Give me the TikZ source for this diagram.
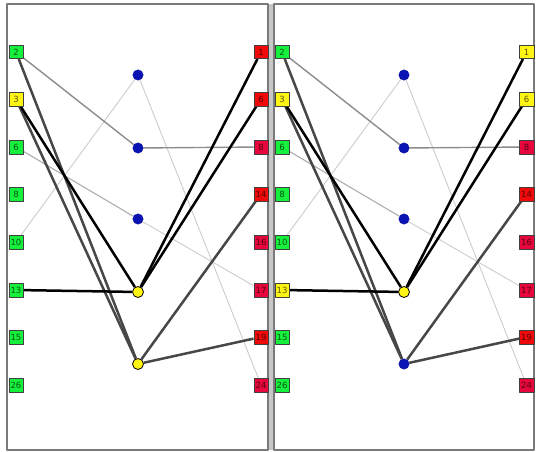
\documentclass[tikz,border=0pt]{standalone}
\usepackage{fontspec}
\setsansfont{DejaVu Sans}
\usetikzlibrary{backgrounds}
\definecolor{ngreen}{HTML}{14F03C}
\definecolor{nyellow}{HTML}{FFF514}
\definecolor{nred}{HTML}{F00A0A}
\definecolor{ncrim}{HTML}{E8073C}
\definecolor{nblue}{HTML}{0A14B4}
\definecolor{framegray}{HTML}{7A7A7A}
\tikzset{
	sq/.style={draw=black!75, line width=0.5pt, minimum width=14.5pt, minimum height=13.5pt,
		inner sep=0pt, font=\sffamily\fontsize{8.5}{8.5}\selectfont},
	bluedot/.style={circle, fill=nblue, draw=nblue!80!black, line width=0.3pt, minimum size=10.5pt, inner sep=0pt},
	yeldot/.style={circle, fill=nyellow, draw=black, line width=0.8pt, minimum size=11pt, inner sep=0pt},
	blackedge/.style={black, line width=2.5pt},
	darkedge/.style={black!72, line width=2.5pt},
	midedge/.style={black!45, line width=1.4pt},
	paleedge/.style={black!32, line width=1.1pt},
	lightedge/.style={black!20, line width=0.9pt}
}
\begin{document}
\begin{tikzpicture}[x=1pt, y=-1pt, line join=round, line cap=round]
	\useasboundingbox (0,0) rectangle (538,452);
	% frames
	\fill[black!22] (268,4) rectangle (274,450);
	\draw[framegray, line width=1.5pt] (7,4) rectangle (268,450);
	\draw[framegray, line width=1.5pt] (274,4) rectangle (534,450);
	% left panel
	\foreach \n/\y/\c in {2/52/ngreen, 3/99/nyellow, 6/147/ngreen, 8/194/ngreen,
		10/242/ngreen, 13/290/ngreen, 15/337/ngreen, 26/385/ngreen} {
		\node[sq, fill=\c, text=\c!35!black] (Al\n) at (16,\y) {\n};	}
	\foreach \n/\y/\c in {1/52/nred, 6/99/nred, 8/147/ncrim, 14/194/nred,
		16/242/ncrim, 17/290/ncrim, 19/337/nred, 24/385/ncrim} {
		\node[sq, fill=\c, text=\c!35!black] (Ar\n) at (261,\y) {\n};	}
	\node[bluedot] (Am1) at (138,75) {};
	\node[bluedot] (Am2) at (138,148) {};
	\node[bluedot] (Am3) at (138,219) {};
	\node[yeldot] (Am4) at (138,292) {};
	\node[yeldot] (Am5) at (138,364) {};
	% right panel
	\foreach \n/\y/\c in {2/52/ngreen, 3/99/nyellow, 6/147/ngreen, 8/194/ngreen,
		10/242/ngreen, 13/290/nyellow, 15/337/ngreen, 26/385/ngreen} {
		\node[sq, fill=\c, text=\c!35!black] (Bl\n) at (282,\y) {\n};	}
	\foreach \n/\y/\c in {1/52/nyellow, 6/99/nyellow, 8/147/ncrim, 14/194/nred,
		16/242/ncrim, 17/290/ncrim, 19/337/nred, 24/385/ncrim} {
		\node[sq, fill=\c, text=\c!35!black] (Br\n) at (526.5,\y) {\n};	}
	\node[bluedot] (Bm1) at (404,75) {};
	\node[bluedot] (Bm2) at (404,148) {};
	\node[bluedot] (Bm3) at (404,219) {};
	\node[yeldot] (Bm4) at (404,292) {};
	\node[bluedot] (Bm5) at (404,364) {};
	% edges
	\begin{pgfonlayer}{background}
		\foreach \p in {A,B} {
			\foreach \a/\b/\s in {l10/m1/lightedge, m1/r24/lightedge, l6/m3/paleedge, m3/r17/lightedge,
				l2/m2/midedge, m2/r8/midedge, l2/m5/darkedge, l3/m5/darkedge,
				m5/r14/darkedge, m5/r19/darkedge, l3/m4/blackedge, l13/m4/blackedge,
				m4/r1/blackedge, m4/r6/blackedge} {
				\draw[\s] (\p\a) -- (\p\b);	}
		}
	\end{pgfonlayer}
\end{tikzpicture}
\end{document}
